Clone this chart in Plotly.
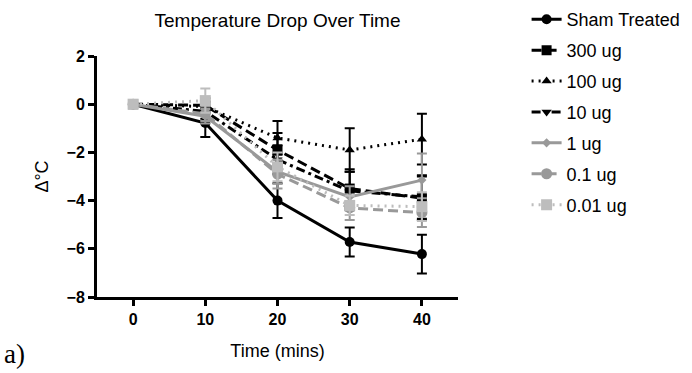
import plotly.graph_objects as go

time = [0, 10, 20, 30, 40]
series = ["Sham Treated", "300 ug", "100 ug", "10 ug", "1 ug", "0.1 ug", "0.01 ug"]
sham = [0, -0.78, -4.0, -5.72, -6.22]
sham_err = [0, 0.58, 0.72, 0.6, 0.8]
ug300 = [0, -0.05, -1.9, -3.5, -3.9]
ug300_err = [0, 0.3, 0.7, 0.8, 0.9]
ug100 = [0, -0.1, -1.4, -1.9, -1.45]
ug100_err = [0, 0.2, 0.7, 0.9, 1.05]
ug10 = [0, -0.3, -2.3, -3.6, -3.85]
ug10_err = [0, 0.3, 0.6, 0.8, 0.9]
ug1 = [0, -0.5, -2.8, -3.85, -3.15]
ug1_err = [0, 0.3, 0.5, 0.45, 1.1]
ug01 = [0, -0.4, -2.9, -4.3, -4.5]
ug01_err = [0, 0.3, 0.6, 0.5, 0.6]
ug001 = [0, 0.15, -2.6, -4.2, -4.25]
ug001_err = [0, 0.5, 0.6, 0.4, 0.6]

values = [sham, ug300, ug100, ug10, ug1, ug01, ug001]
errors = [sham_err, ug300_err, ug100_err, ug10_err, ug1_err, ug01_err, ug001_err]
colors = ["#000000", "#000000", "#000000", "#000000", "#999999", "#999999", "#bdbdbd"]
dashes = ["solid", "10px,5px", "2px,5px", "9px,4px,3px,4px", "solid", "10px,5px", "2px,5px"]
symbols = ["circle", "square", "triangle-up", "triangle-down", "diamond", "circle", "square"]
msizes = [10, 10, 9, 9, 7, 11, 11]

fig = go.Figure()
for i, name in enumerate(series):
    fig.add_trace(go.Scatter(
        x=time, y=values[i], name=name, mode="lines+markers",
        legendgroup=name, legendrank=i + 1,
        line=dict(color=colors[i], width=3, dash=dashes[i]),
        marker=dict(symbol=symbols[i], size=msizes[i], color=colors[i]),
        error_y=dict(type="data", array=errors[i], color=colors[i], thickness=2, width=5),
    ))

fig.update_layout(
    width=692, height=373,
    margin=dict(l=97, r=234, t=56, b=76, autoexpand=False),
    paper_bgcolor="white", plot_bgcolor="white",
    font=dict(family="Liberation Sans, Arial", color="black"),
    title=dict(text="Temperature Drop Over Time", x=(97 + 361 / 2) / 692, xanchor="center",
               y=1 - 20 / 373, yanchor="middle", font=dict(size=19)),
    showlegend=True,
    legend=dict(x=1.19, y=1.228, xanchor="left", yanchor="top", font=dict(size=18),
                tracegroupgap=4.5, bgcolor="rgba(0,0,0,0)", maxheight=1),
    xaxis=dict(range=[-5, 45], tickvals=[0, 10, 20, 30, 40], showgrid=False, zeroline=False,
               showline=True, linecolor="black", linewidth=3, ticks="outside", ticklen=6,
               tickwidth=3, tickcolor="black", tickfont=dict(size=16, weight="bold"),
               title=dict(text="Time (mins)", font=dict(size=18), standoff=18)),
    yaxis=dict(range=[-8, 2], tickvals=[2, 0, -2, -4, -6, -8], showgrid=False, zeroline=False,
               showline=True, linecolor="black", linewidth=3, ticks="outside", ticklen=6,
               tickwidth=3, tickcolor="black", tickfont=dict(size=16, weight="bold"),
               title=dict(text="Δ°C", font=dict(size=18), standoff=14)),
)
fig.add_annotation(text="a)", xref="paper", yref="paper", x=-95 / 361, y=-57 / 241,
                   xanchor="left", yanchor="middle", showarrow=False,
                   font=dict(family="Liberation Serif, Times New Roman", size=27))
fig.write_html("out.html")
